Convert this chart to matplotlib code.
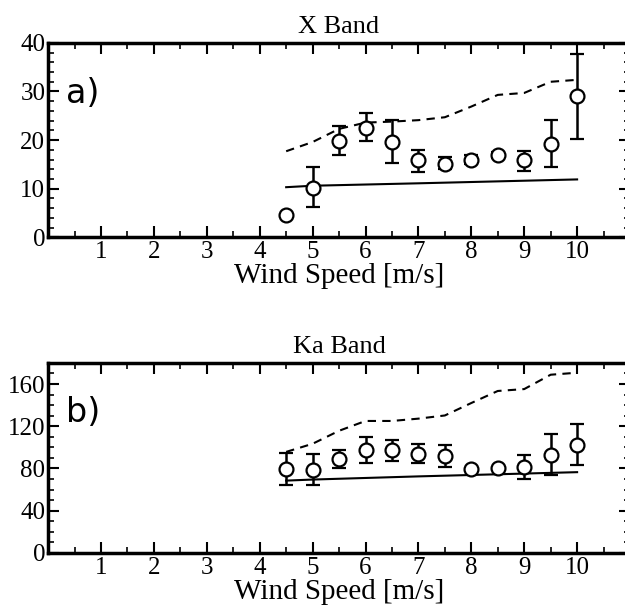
import numpy as np
import matplotlib
matplotlib.use("Agg")
import matplotlib.pyplot as plt
from matplotlib.ticker import MultipleLocator

# wind speed bins [m/s]
wind = [4.5, 5.0, 5.5, 6.0, 6.5, 7.0, 7.5, 8.0, 8.5, 9.0, 9.5, 10.0]

# X band: measured points, error bar limits, upper (dashed) and lower (solid) curves
x_val = [4.5, 10.2, 19.9, 22.5, 19.6, 15.8, 15.1, 15.9, 17.0, 15.8, 19.2, 29.1]
x_hi = [4.5, 14.4, 22.8, 25.6, 24.1, 18.0, 16.5, 17.0, 17.6, 17.7, 24.1, 37.7]
x_lo = [4.5, 6.2, 17.0, 19.8, 15.3, 13.5, 14.1, 15.0, 16.4, 13.7, 14.5, 20.2]
x_dash = [17.7, 19.6, 22.3, 23.6, 23.8, 24.1, 24.7, 26.9, 29.3, 29.7, 32.0, 32.4]
x_solid_w = [4.5, 5.0, 7.0, 10.0]
x_solid = [10.3, 10.6, 11.1, 11.9]

# Ka band
ka_val = [79.6, 78.7, 88.9, 97.8, 97.2, 94.1, 92.0, 79.3, 80.9, 81.8, 93.2, 102.5]
ka_hi = [94.8, 94.1, 97.2, 110.2, 107.4, 103.4, 101.9, 79.3, 80.9, 92.6, 112.7, 121.9]
ka_lo = [64.8, 63.9, 80.9, 84.9, 87.0, 84.9, 81.8, 79.3, 80.9, 70.1, 74.1, 83.3]
ka_dash = [95.7, 103.4, 115.7, 125.0, 125.0, 127.2, 130.2, 142.0, 153.4, 155.2, 168.8, 170.7]
ka_solid_w = [4.5, 5.0, 7.0, 10.0]
ka_solid = [68.5, 69.5, 72.5, 76.5]

plt.rcParams['font.family'] = ['Liberation Serif', 'DejaVu Serif']


def panel(ax, val, hi, lo, dash, sw, solid, ymax, ymaj, ymin, title, tag):
    val = np.array(val)
    yerr = [val - np.array(lo), np.array(hi) - val]
    ax.plot(wind, dash, color='black', ls=(0, (4, 3)), lw=1.5)
    ax.plot(sw, solid, color='black', lw=1.5)
    ax.errorbar(wind, val, yerr=yerr, fmt='o', mfc='white', mec='black', mew=1.6,
                ms=10, ecolor='black', elinewidth=1.8, capsize=5, capthick=1.8)
    ax.set_xlim(0, 11)
    ax.set_ylim(0, ymax)
    ax.set_xticks(range(1, 11))
    ax.xaxis.set_minor_locator(MultipleLocator(0.5))
    ax.yaxis.set_major_locator(MultipleLocator(ymaj))
    ax.yaxis.set_minor_locator(MultipleLocator(ymin))
    ax.tick_params(which='both', direction='in', top=True, right=True, labelsize=18, pad=3)
    ax.tick_params(axis='y', pad=2)
    ax.tick_params(which='major', length=8, width=1.5)
    ax.tick_params(which='minor', length=4, width=1.2)
    for s in ax.spines.values():
        s.set_linewidth(2.5)
    ax.set_title(title, fontsize=19, pad=7)
    ax.text(0.03, 0.74, tag, transform=ax.transAxes, fontsize=24,
            family=['DejaVu Sans'], va='center', ha='left')


fig = plt.figure(figsize=(6.25, 6.13), dpi=100)
ax1 = fig.add_axes([0.077, 0.613, 0.931, 0.317])
ax2 = fig.add_axes([0.077, 0.098, 0.931, 0.31])

panel(ax1, x_val, x_hi, x_lo, x_dash, x_solid_w, x_solid, 40, 10, 2, 'X Band', 'a)')
panel(ax2, ka_val, ka_hi, ka_lo, ka_dash, ka_solid_w, ka_solid, 180, 40, 10, 'Ka Band', 'b)')

ax1.set_xlabel('Wind Speed [m/s]', fontsize=21, labelpad=0)
ax2.set_xlabel('Wind Speed [m/s]', fontsize=21, labelpad=0)

fig.savefig('out.png', dpi=100)
